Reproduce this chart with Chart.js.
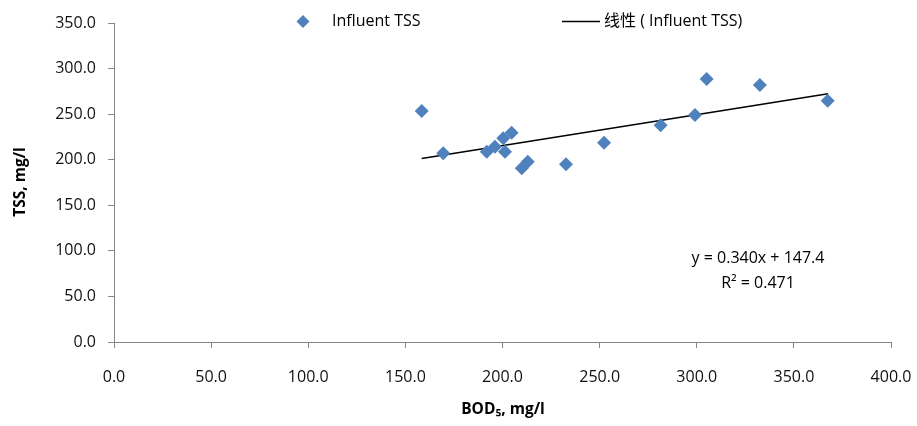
<!DOCTYPE html>
<html>
<head>
<meta charset="utf-8">
<script src="https://cdn.jsdelivr.net/npm/chart.js@4.4.1/dist/chart.umd.min.js"></script>
<style>
  html, body { margin: 0; padding: 0; background: #ffffff; }
  #wrap { width: 917px; height: 426px; position: relative; }
</style>
</head>
<body>
<div id="wrap"><canvas id="c" width="917" height="426"></canvas></div>
<script>
// BOD5 (x) and TSS (y) values
const bodValues = [158.4, 169.5, 191.9, 196.1, 201.3, 200.4, 204.7, 209.9, 213.0, 232.7, 252.3, 281.4, 299.1, 305.1, 332.5, 367.4];
const tssValues = [253.5, 207.0, 208.8, 214.3, 208.8, 223.5, 229.6, 190.6, 197.8, 195.0, 218.7, 237.8, 249.1, 288.6, 282.0, 264.8];
// linear trend line end points
const trendX = [158.4, 367.6];
const trendY = [201.3, 272.4];
const seriesName = 'Influent TSS';
const trendName = '线性 ( Influent TSS)';
const equationLines = ['y = 0.340x + 147.4', 'R² = 0.471'];
const xTitle = 'BOD₅, mg/l';
const yTitle = 'TSS, mg/l';

const FONT = "'Open Sans', 'Noto Sans CJK SC', sans-serif";
const BLUE = '#4F81BD';
const AXIS = '#868686';

const scatterPts = bodValues.map((x, i) => ({ x: x, y: tssValues[i] }));
const trendPts = trendX.map((x, i) => ({ x: x, y: trendY[i] }));

const extras = {
  id: 'extras',
  afterDraw(chart) {
    const ctx = chart.ctx;
    ctx.save();
    // legend
    ctx.fillStyle = BLUE;
    const cx = 303, cy = 21.5, r = 6.5;
    ctx.beginPath();
    ctx.moveTo(cx, cy - r); ctx.lineTo(cx + r, cy); ctx.lineTo(cx, cy + r); ctx.lineTo(cx - r, cy);
    ctx.closePath(); ctx.fill();
    ctx.fillStyle = '#000';
    ctx.font = '16px ' + FONT;
    ctx.textBaseline = 'middle';
    ctx.textAlign = 'left';
    ctx.fillText(seriesName, 332, 21);
    ctx.strokeStyle = '#000'; ctx.lineWidth = 1.5;
    ctx.beginPath(); ctx.moveTo(562, 21.5); ctx.lineTo(600, 21.5); ctx.stroke();
    ctx.fillText(trendName, 604, 21);
    // equation
    ctx.textAlign = 'center';
    ctx.fillText(equationLines[0], 758, 258);
    ctx.fillText(equationLines[1], 758, 283);
    // axis titles
    ctx.font = 'bold 15.5px ' + FONT;
    ctx.fillText(xTitle, 503, 410);
    ctx.save();
    ctx.translate(21, 182);
    ctx.rotate(-Math.PI / 2);
    ctx.fillText(yTitle, 0, 0);
    ctx.restore();
    ctx.restore();
  }
};

new Chart(document.getElementById('c'), {
  type: 'scatter',
  data: {
    datasets: [
      {
        type: 'line',
        label: trendName,
        data: trendPts,
        borderColor: '#000000',
        borderWidth: 1.5,
        pointRadius: 0,
        fill: false,
        order: 2
      },
      {
        label: seriesName,
        data: scatterPts,
        pointStyle: 'rectRot',
        pointRadius: 7,
        pointHoverRadius: 7,
        backgroundColor: BLUE,
        borderColor: BLUE,
        borderWidth: 0,
        order: 1
      }
    ]
  },
  options: {
    responsive: false,
    animation: false,
    devicePixelRatio: 1,
    layout: { padding: { left: 0, right: 26, top: 23, bottom: 0 } },
    plugins: { legend: { display: false }, tooltip: { enabled: false } },
    scales: {
      x: {
        type: 'linear',
        min: 0, max: 400,
        ticks: {
          stepSize: 50,
          color: '#111',
          font: { family: FONT, size: 16 },
          padding: 20,
          callback: v => v.toFixed(1)
        },
        grid: { display: true, drawOnChartArea: false, drawTicks: true, tickLength: 6, color: AXIS },
        border: { display: true, color: AXIS, width: 1 },
        afterFit: s => { s.height = 84; s.paddingLeft = 0; s.paddingRight = 0; }
      },
      y: {
        type: 'linear',
        min: 0, max: 350,
        ticks: {
          stepSize: 50,
          color: '#111',
          font: { family: FONT, size: 16 },
          padding: 12,
          callback: v => v.toFixed(1)
        },
        grid: { display: true, drawOnChartArea: false, drawTicks: true, tickLength: 6, color: AXIS },
        border: { display: true, color: AXIS, width: 1 },
        afterFit: s => { s.width = 114; s.paddingTop = 0; s.paddingBottom = 0; }
      }
    }
  },
  plugins: [extras]
});
</script>
</body>
</html>
